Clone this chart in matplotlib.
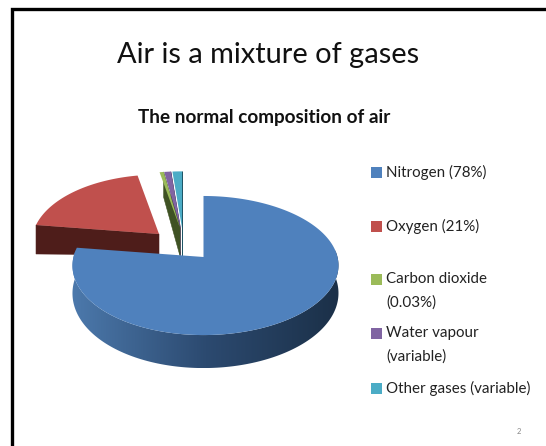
import numpy as np
import matplotlib
matplotlib.use("Agg")
import matplotlib.pyplot as plt
from matplotlib.patches import Polygon, Rectangle
from matplotlib.colors import LinearSegmentedColormap

# ---- data ----
labels = ["Nitrogen (78%)", "Oxygen (21%)", "Carbon dioxide\n(0.03%)",
          "Water vapour\n(variable)", "Other gases (variable)"]
values = [77.2, 19.8, 0.6, 1.0, 1.4]
title = "Air is a mixture of gases"
subtitle = "The normal composition of air"
page_number = "2"

# ---- style ----
top_colors = ["#4F81BD", "#C0504D", "#9BBB59", "#8064A2", "#4BACC6"]
wall_colors = ["#2A4567", "#4E1D1A", "#3F5224", "#3A2A55", "#1F5566"]
apex = [(203.5, 257), (159, 234), (180, 228), (180.5, 228), (182, 228)]
radius = [1.0, 0.97, 0.92, 0.92, 0.92]
wall_depth = [30, 21, 28, 28, 28]
A, B, K, SKEW = 132.0, 68.5, 0.1225, 0.015
legend_y = [172, 226, 279, 333, 388]

plt.rcParams["font.family"] = ["Lato", "DejaVu Sans"]
fig = plt.figure(figsize=(5.46, 4.46), dpi=100)
ax = fig.add_axes([0, 0, 1, 1])
ax.axis("off")


def project(i, theta, r=None):
    """Perspective projection of the pie plane; theta in radians."""
    r = radius[i] if r is None else r
    u, v = r * np.cos(theta), r * np.sin(theta)
    w = 1.0 / (1.0 + K * v)
    return apex[i][0] + A * u * (1 + SKEW * u) * w, apex[i][1] - B * v * w


# slice angles: start at 12 o'clock, clockwise
fracs = np.array(values) / np.sum(values)
ends = np.pi / 2 - np.cumsum(fracs) * 2 * np.pi
starts = ends + fracs * 2 * np.pi


def top_polygon(i):
    th = np.linspace(starts[i], ends[i], 240)
    x, y = project(i, th)
    return np.column_stack([np.r_[apex[i][0], x], np.r_[apex[i][1], y]])


def cut_face(i, theta, outer_scale, zorder):
    x, y = project(i, theta)
    ax0, ay0 = apex[i]
    d = wall_depth[i]
    ax.add_patch(Polygon([(x, y), (ax0, ay0), (ax0, ay0 + d), (x, y + d * outer_scale)],
                         closed=True, fc=wall_colors[i], ec=wall_colors[i], lw=0.4, zorder=zorder))


# oxygen: front cut face, then top
cut_face(1, starts[1], 1.38, 1)
ax.add_patch(Polygon(top_polygon(1), closed=True, fc=top_colors[1], ec="none", zorder=2))

# small slices
for i in [4, 3, 2]:
    cut_face(i, ends[i], 0.9, 3)
    ax.add_patch(Polygon(top_polygon(i), closed=True, fc=top_colors[i], ec="none", zorder=4))

# nitrogen: rim filled with a horizontal gradient, then top
th = np.linspace(-np.pi - 0.1, 0.1, 240)
rx, ry = project(0, th)
depth = 27 - 6 * np.sin(th)
rim_xy = np.column_stack([np.r_[rx, rx[::-1]], np.r_[ry, (ry + depth)[::-1]]])
rim = Polygon(rim_xy, closed=True, fc="none", ec="none", transform=ax.transData)
ax.add_patch(rim)
cmap = LinearSegmentedColormap.from_list("rim", ["#4C79AC", "#2C4A70", "#1B3048"])
grad = ax.imshow(np.linspace(0, 1, 256)[None, :], cmap=cmap, aspect="auto",
                 extent=(rx.min(), rx.max(), (ry + depth).max(), ry.min()), zorder=5)
grad.set_clip_path(rim)
ax.add_patch(Polygon(top_polygon(0), closed=True, fc=top_colors[0], ec="none", zorder=6))

ax.set_xlim(0, 546)
ax.set_ylim(446, 0)

# slide frame
ax.plot([11.5, 11.5, 546], [446, 8.5, 8.5], color="black", lw=2.4,
        solid_joinstyle="miter", zorder=10, clip_on=False)

# titles
ax.text(268, 55, title, ha="center", va="center", fontsize=20.9, color="#111111")
ax.text(264, 117, subtitle, ha="center", va="center", fontsize=13.6, color="#111111",
        fontweight="bold")

# legend
for lab, yy, col in zip(labels, legend_y, top_colors):
    ax.add_patch(Rectangle((371, yy - 5.5), 11, 11, fc=col, ec="none"))
    ax.text(386, yy - 7, lab, ha="left", va="top", fontsize=10.9, color="#222222",
            linespacing=1.85)

ax.text(519, 431, page_number, ha="center", va="center", fontsize=5.5, color="#888888")

fig.savefig("out.png", dpi=100, facecolor="white")
